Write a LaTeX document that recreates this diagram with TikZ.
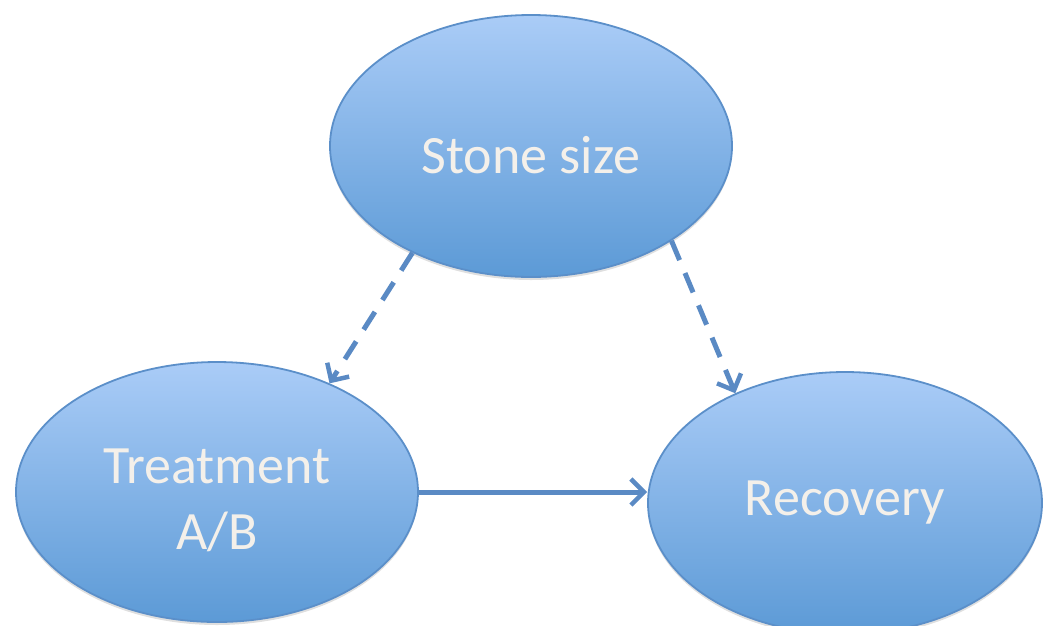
\documentclass[tikz,border=0pt]{standalone}
\usepackage{fontspec}
\setmainfont{Carlito}
\usetikzlibrary{arrows.meta,shadows,shapes.geometric}
\definecolor{topblue}{HTML}{AACCF7}
\definecolor{botblue}{HTML}{5C9AD6}
\definecolor{rimblue}{HTML}{5B8FC9}
\definecolor{linkblue}{HTML}{5A8AC4}
\definecolor{labelwhite}{HTML}{F4F0EA}
\begin{document}
\begin{tikzpicture}[x=1pt,y=-1pt,
  bubble/.style={ellipse, draw=rimblue, line width=1.8pt,
    top color=topblue, bottom color=botblue,
    inner sep=0pt,
    drop shadow={opacity=0.25, shadow xshift=0pt, shadow yshift=-3pt}},
  bubbletext/.style={text=labelwhite, align=center, inner sep=0pt},
  link/.style={draw=linkblue, line width=5pt,
    -{Straight Barb[length=13pt,width=26pt,line width=4.5pt]}},
  dashedlink/.style={link, dash pattern=on 21pt off 14pt}]
\useasboundingbox (0,0) rectangle (1044,625);
\node[bubble, minimum width=402pt, minimum height=262pt] (stone) at (531,146) {};
\node[bubbletext, font=\fontsize{54}{64}\selectfont] (stonelbl) at (531,155) {Stone size};
\node[bubble, minimum width=402pt, minimum height=260pt] (treat) at (217,492) {};
\node[bubbletext, font=\fontsize{54}{66}\selectfont] (treatlbl) at (217,500) {Treatment\\A/B};
\node[bubble, minimum width=394pt, minimum height=262pt] (recov) at (845,503) {};
\node[bubbletext, font=\fontsize{54}{64}\selectfont] (recovlbl) at (845,503) {Recovery};
\draw[dashedlink] (stone.222) -- (treat.44);
\draw[dashedlink] (stone.326) -- (recov.135);
\draw[link] (treat.east) -- (recov.west |- treat.east);
\end{tikzpicture}
\end{document}
